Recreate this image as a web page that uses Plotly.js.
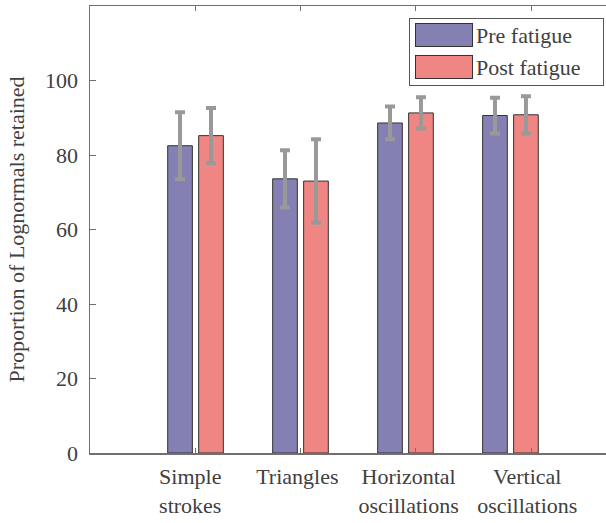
<!DOCTYPE html>
<html>
<head>
<meta charset="utf-8">
<script src="https://cdn.plot.ly/plotly-3.0.1.min.js"></script>
<style>
html,body{margin:0;padding:0;background:#fff;}
#wrap{position:relative;width:606px;height:523px;}
#chart{width:606px;height:523px;}
#legend{position:absolute;left:409px;top:18px;width:195px;height:68px;box-sizing:border-box;border:1px solid #555;background:#fff;z-index:10;}
.sw{position:absolute;left:5px;width:58px;height:24px;box-sizing:border-box;border:1px solid #333;}
.lt{position:absolute;left:66px;height:24px;line-height:24px;font:22px "Liberation Serif";color:#404040;white-space:nowrap;}
</style>
</head>
<body>
<div id="wrap">
  <div id="chart"></div>
  <div id="legend"></div>
</div>
<script>
// ---- data ----
const groupPositions = [1, 2, 3, 4];
const categories = ["Simple<br>strokes", "Triangles", "Horizontal<br>oscillations", "Vertical<br>oscillations"];
const seriesNames = ["Pre fatigue", "Post fatigue"];
const preValues = [82.5, 73.6, 88.6, 90.6];
const preErrors = [9.0, 7.7, 4.4, 4.8];
const postValues = [85.2, 73.0, 91.3, 90.8];
const postErrors = [7.4, 11.2, 4.2, 5.0];
const yTickValues = [0, 20, 40, 60, 80, 100];
const xTickValues = [1.0, 2.0, 3.1, 4.2];
const xLabelPositions = [0.95, 1.97, 3.03, 4.16];

// ---- style ----
const colors = ["#8480B3", "#F08683"];
const mkFont = () => ({family: "Liberation Serif", size: 22, color: "#404040"});
const axisColor = "#707070";
const xRange = [-0.005, 4.91];

// legend (HTML, built from the series names and colours)
const legendEl = document.getElementById("legend");
const legendTops = [4, 36];
seriesNames.forEach((name, i) => {
  const sw = document.createElement("div");
  sw.className = "sw";
  sw.style.top = legendTops[i] + "px";
  sw.style.background = colors[i];
  legendEl.appendChild(sw);
  const lt = document.createElement("div");
  lt.className = "lt";
  lt.style.top = legendTops[i] + "px";
  lt.textContent = name;
  legendEl.appendChild(lt);
});

const traces = [
  {
    type: "bar", name: seriesNames[0], x: groupPositions, y: preValues,
    width: 0.235, offset: -0.265,
    marker: {color: colors[0], line: {color: "#333333", width: 1}},
    error_y: {type: "data", array: preErrors, visible: true, color: "#999999", thickness: 4, width: 5},
    showlegend: false
  },
  {
    type: "bar", name: seriesNames[1], x: groupPositions, y: postValues,
    width: 0.235, offset: 0.03,
    marker: {color: colors[1], line: {color: "#333333", width: 1}},
    error_y: {type: "data", array: postErrors, visible: true, color: "#999999", thickness: 4, width: 5},
    showlegend: false
  },
  { // carrier for the category labels axis
    type: "scatter", x: [xRange[0]], y: [0], xaxis: "x2", yaxis: "y",
    mode: "markers", marker: {opacity: 0}, showlegend: false
  }
];

const layout = {
  width: 606, height: 523,
  margin: {l: 90, r: 0, t: 6, b: 70, pad: 0},
  font: mkFont(),
  barmode: "overlay",
  showlegend: false,
  xaxis: {
    range: xRange, showgrid: false, zeroline: false,
    showline: true, linecolor: axisColor, linewidth: 1.5, mirror: "ticks",
    ticks: "inside", ticklen: 5, tickwidth: 1, tickcolor: axisColor,
    tickmode: "array", tickvals: xTickValues, showticklabels: false
  },
  xaxis2: {
    range: xRange, overlaying: "x", anchor: "y", side: "bottom",
    showgrid: false, zeroline: false, showline: false, ticks: "",
    tickmode: "array", tickvals: xLabelPositions, ticktext: categories,
    tickfont: mkFont(), ticklabelstandoff: 8
  },
  yaxis: {
    range: [0, 120], showgrid: false, zeroline: false,
    showline: true, linecolor: axisColor, linewidth: 1.5, mirror: false,
    ticks: "inside", ticklen: 6, tickwidth: 1, tickcolor: axisColor,
    tickmode: "array", tickvals: yTickValues, tickfont: mkFont(), ticklabelstandoff: 6,
    title: {text: "Proportion of Lognormals retained", font: mkFont(), standoff: 14}
  }
};

Plotly.newPlot("chart", traces, layout, {displayModeBar: false, staticPlot: true});
</script>
</body>
</html>
